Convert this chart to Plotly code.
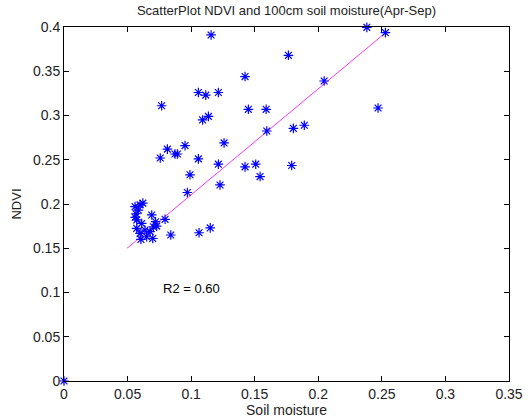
import plotly.graph_objects as go

# Soil moisture (x) and NDVI (y)
soil_moisture = [
    0.0,
    0.2382, 0.2528, 0.1157, 0.1765, 0.1424, 0.0768, 0.2046, 0.1057, 0.1115,
    0.1214, 0.1450, 0.1590, 0.1090, 0.1136, 0.2470, 0.1595, 0.1804, 0.1890,
    0.0952, 0.0873, 0.0892, 0.0813, 0.0757, 0.1259, 0.1057, 0.1214, 0.1424,
    0.1508, 0.1791, 0.1542, 0.0991, 0.1227, 0.0970, 0.0795, 0.0729, 0.0840,
    0.1062, 0.1150,
    0.0598, 0.0559, 0.0690, 0.0566, 0.0572, 0.0611, 0.0572, 0.0637, 0.0598,
    0.0650, 0.0698, 0.0703, 0.0677, 0.0585, 0.0620, 0.0560, 0.0720, 0.0605,
]
ndvi = [
    0.0,
    0.3996, 0.3936, 0.3910, 0.3680, 0.3440, 0.3110, 0.3390, 0.3260, 0.3230,
    0.3260, 0.3070, 0.3070, 0.2950, 0.2990, 0.3085, 0.2825, 0.2855, 0.2890,
    0.2660, 0.2565, 0.2565, 0.2620, 0.2520, 0.2690, 0.2510, 0.2450, 0.2420,
    0.2450, 0.2435, 0.2310, 0.2330, 0.2215, 0.2130, 0.1827, 0.1750, 0.1650,
    0.1675, 0.1730,
    0.1990, 0.1970, 0.1876, 0.1890, 0.1820, 0.1780, 0.1725, 0.1706, 0.1668,
    0.1630, 0.1610, 0.1743, 0.1688, 0.1930, 0.2010, 0.1850, 0.1800, 0.1600,
]

# Linear fit
fit_x = [0.0496, 0.2533]
fit_slope = 1.198
fit_intercept = 0.0906
fit_y = [fit_slope * v + fit_intercept for v in fit_x]

title_text = "ScatterPlot NDVI and 100cm soil moisture(Apr-Sep)"
r2_text = "R2 = 0.60"
x_ticks = [0, 0.05, 0.1, 0.15, 0.2, 0.25, 0.3, 0.35]
y_ticks = [0, 0.05, 0.1, 0.15, 0.2, 0.25, 0.3, 0.35, 0.4]

FONT = "Liberation Sans, Arial, sans-serif"

fig = go.Figure()
fig.add_trace(go.Scatter(
    x=fit_x, y=fit_y, mode="lines",
    line=dict(color="#ff33ff", width=1), showlegend=False, hoverinfo="skip"))
fig.add_trace(go.Scatter(
    x=soil_moisture, y=ndvi, mode="markers",
    marker=dict(symbol="asterisk-open", size=8,
                line=dict(color="#0000ff", width=1.2), color="#0000ff"),
    showlegend=False, cliponaxis=False))

fig.add_annotation(x=0.0763, y=0.105, text=r2_text, showarrow=False,
                   xanchor="left", yanchor="middle",
                   font=dict(size=13, color="black", family=FONT))

axis_common = dict(
    showgrid=False, zeroline=False, showline=True, linecolor="black",
    linewidth=1, mirror="ticks", ticks="inside", ticklen=5, tickcolor="black",
    tickfont=dict(size=14, color="#222222", family=FONT), automargin=False,
)
fig.update_xaxes(range=[0, 0.35], tickvals=x_ticks,
                 ticktext=[("%g" % v) for v in x_ticks],
                 title=dict(text="Soil moisture", standoff=3,
                            font=dict(size=14, color="#222222", family=FONT)),
                 **axis_common)
fig.update_yaxes(range=[0, 0.4], tickvals=y_ticks,
                 ticktext=[("%g" % v) for v in y_ticks],
                 title=dict(text="NDVI", standoff=8,
                            font=dict(size=13, color="#222222", family=FONT)),
                 **axis_common)

fig.update_layout(
    width=528, height=419,
    margin=dict(l=64, r=19, t=27, b=38, pad=0),
    paper_bgcolor="white", plot_bgcolor="white",
    title=dict(text=title_text, x=0.5, xref="paper", y=1 - 10 / 419,
               yref="container", yanchor="middle",
               font=dict(size=13, color="#222222", family=FONT)),
)
fig.write_html("out.html")
